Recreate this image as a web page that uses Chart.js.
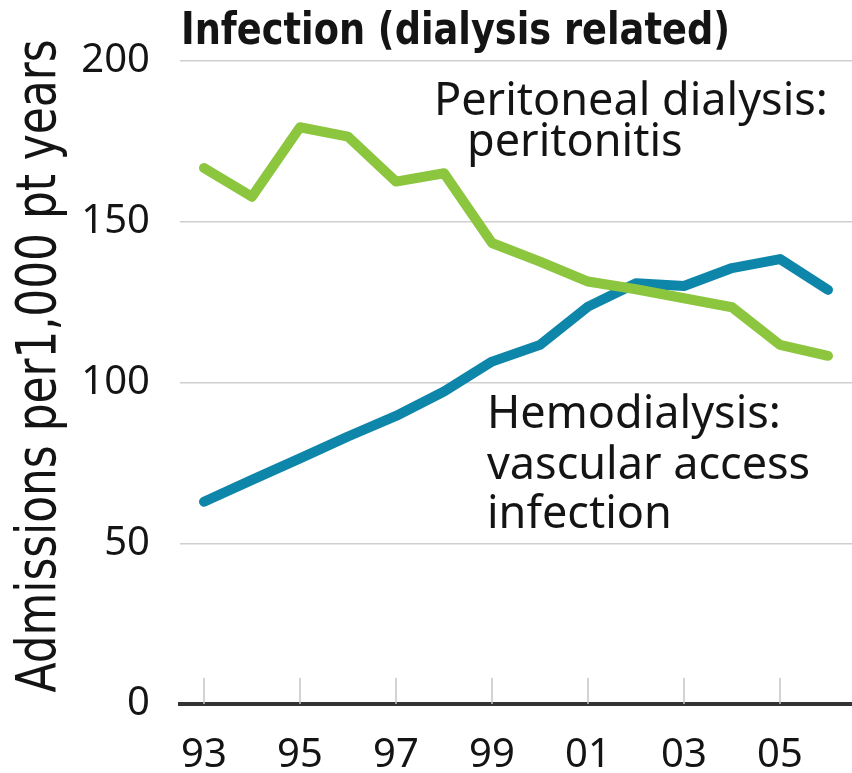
<!DOCTYPE html>
<html>
<head>
<meta charset="utf-8">
<script src="https://cdn.jsdelivr.net/npm/chart.js@4"></script>
<style>
  html, body { margin:0; padding:0; background:#fff; }
  #wrap { width:852px; height:773px; }
</style>
</head>
<body>
<div id="wrap"><canvas id="chart" width="852" height="773"></canvas></div>
<script>
// ===== Data =====
const years = ['93','94','95','96','97','98','99','00','01','02','03','04','05','06'];
const tickLabels = ['93','95','97','99','01','03','05'];
const peritonitis = [166.7, 157.8, 179.4, 176.5, 162.5, 165.1, 143.4, 137.6, 131.4, 129.0, 126.2, 123.4, 111.7, 108.3];
const vascular = [62.9, 69.7, 76.4, 83.2, 89.6, 97.2, 106.5, 111.7, 123.6, 130.9, 130.0, 135.6, 138.4, 128.8];

const GREEN = '#8cc63f';
const BLUE = '#0e86a9';
const INK = '#141414';
const TEXT_FONT = '"Noto Sans", "Open Sans", sans-serif';

// ===== Texts drawn on top =====
const textPlugin = {
  id: 'texts',
  beforeDatasetsDraw(chart){
    // small tick marks above the axis at labelled years
    const ctx = chart.ctx, x = chart.scales.x, a = chart.chartArea;
    ctx.save();
    ctx.strokeStyle = '#c4c4c4'; ctx.lineWidth = 1.5;
    years.forEach((y,i)=>{
      if(!tickLabels.includes(y)) return;
      const px = x.getPixelForValue(i);
      ctx.beginPath(); ctx.moveTo(px, a.bottom - 26); ctx.lineTo(px, a.bottom); ctx.stroke();
    });
    ctx.restore();
  },
  afterDraw(chart){
    const ctx = chart.ctx;
    ctx.save();
    ctx.fillStyle = INK;
    ctx.textBaseline = 'alphabetic';
    ctx.textAlign = 'left';

    // title (bold condensed)
    ctx.save();
    ctx.font = 'bold 45px "Liberation Sans Narrow", "DejaVu Sans Condensed", sans-serif';
    const tw = ctx.measureText('Infection (dialysis related)').width;
    ctx.translate(181, 44);
    ctx.scale(549 / tw, 1);
    ctx.fillText('Infection (dialysis related)', 0, 0);
    ctx.restore();

    // y axis title
    ctx.save();
    ctx.font = '55px "Liberation Sans Narrow", "DejaVu Sans Condensed", sans-serif';
    const yt = 'Admissions per1,000 pt years';
    const yw = ctx.measureText(yt).width;
    ctx.translate(55, 366);
    ctx.rotate(-Math.PI / 2);
    ctx.scale(653 / yw, 1);
    ctx.textAlign = 'center';
    ctx.fillText(yt, 0, 0);
    ctx.restore();

    // line labels
    ctx.font = '45px ' + TEXT_FONT;
    ctx.fillText('Peritoneal dialysis:', 434, 115);
    ctx.fillText('peritonitis', 467, 156);
    ctx.fillText('Hemodialysis:', 487, 428);
    ctx.fillText('vascular access', 487, 479);
    ctx.fillText('infection', 487, 528);
    ctx.restore();
  }
};

// ===== Chart =====
new Chart(document.getElementById('chart'), {
  type: 'line',
  data: {
    labels: years,
    datasets: [
      { label: 'Peritoneal dialysis: peritonitis', data: peritonitis, borderColor: GREEN,
        borderWidth: 10, pointRadius: 0, tension: 0, borderCapStyle: 'round', borderJoinStyle: 'round' },
      { label: 'Hemodialysis: vascular access infection', data: vascular, borderColor: BLUE,
        borderWidth: 10, pointRadius: 0, tension: 0, borderCapStyle: 'round', borderJoinStyle: 'round' }
    ]
  },
  options: {
    responsive: false,
    animation: false,
    layout: { padding: { top: 61, left: 0, right: 0, bottom: 0 } },
    plugins: { legend: { display: false }, tooltip: { enabled: false } },
    scales: {
      x: {
        type: 'category',
        offset: true,
        grid: { display: false },
        border: { display: true, color: '#333', width: 4 },
        ticks: {
          autoSkip: false, maxRotation: 0, padding: 20,
          color: INK, font: { family: TEXT_FONT, size: 40 },
          callback(v){ const l = this.getLabelForValue(v); return tickLabels.includes(l) ? l : ''; }
        },
        afterFit(s){ s.height = 69; }
      },
      y: {
        min: 0, max: 200,
        grid: { color: '#cfcfcf', lineWidth: 1.5, drawTicks: false },
        border: { display: false },
        ticks: { stepSize: 50, padding: 30, color: INK, font: { family: TEXT_FONT, size: 40 } },
        afterFit(s){ s.width = 180; }
      }
    }
  },
  plugins: [textPlugin]
});
</script>
</body>
</html>
